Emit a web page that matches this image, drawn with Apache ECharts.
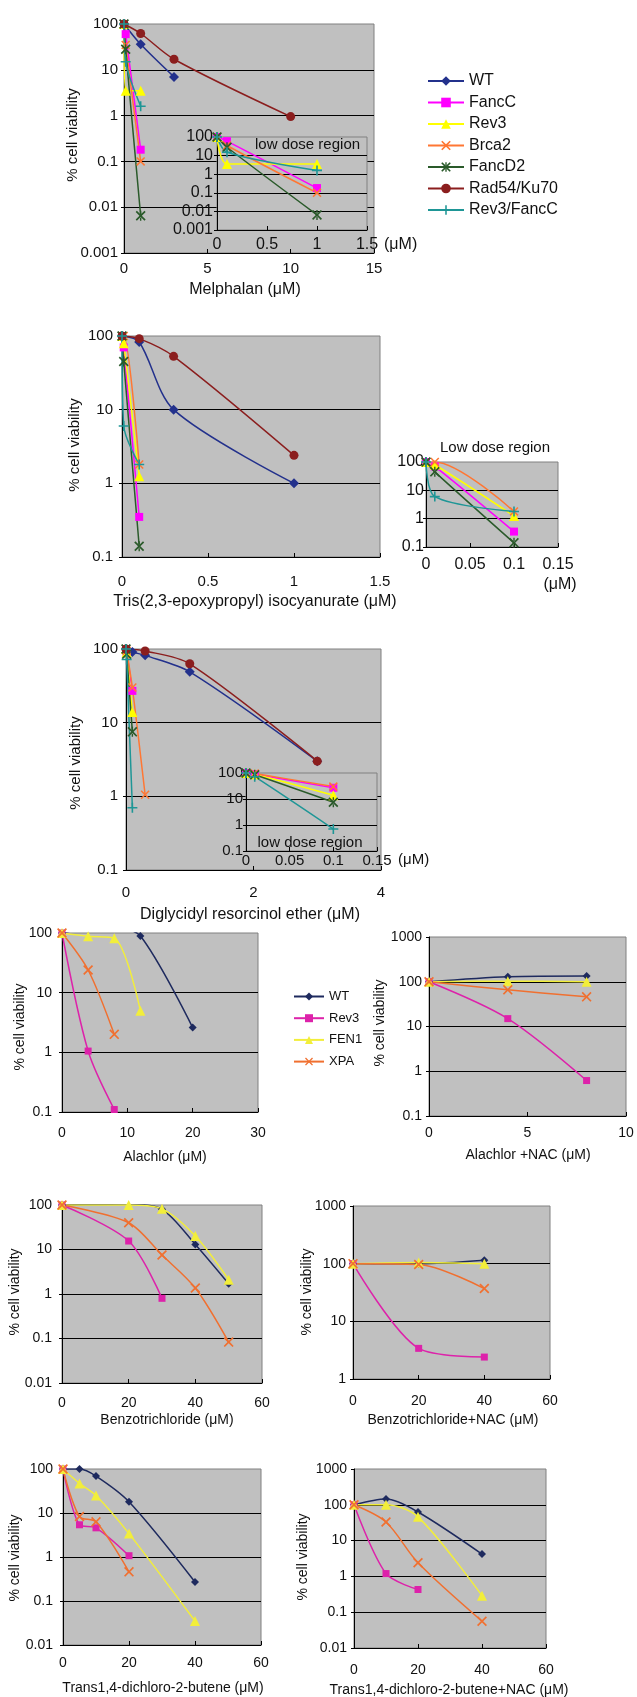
<!DOCTYPE html>
<html><head><meta charset="utf-8">
<script src="https://cdn.jsdelivr.net/npm/echarts@6/dist/echarts.min.js"></script>
<style>html,body{margin:0;padding:0;background:#fff}#c{width:637px;height:1697px}</style>
</head><body><div id="c"></div>
<script>
// ---------- DATA: [dose (µM), % cell viability] ----------
// Melphalan
const melWT        = [[0,100],[1,36],[3,7]];
const melFancC     = [[0,100],[0.1,60],[1,0.18]];
const melRev3      = [[0,100],[0.1,3.5],[1,3.5]];
const melBrca2     = [[0,100],[0.1,35],[1,0.1]];
const melFancD2    = [[0,100],[0.1,28],[1,0.0065]];
const melRad54     = [[0,100],[1,62],[3,17],[10,0.95]];
const melRev3FancC = [[0,100],[0.1,15],[1,1.6]];
// Tris(2,3-epoxypropyl) isocyanurate
const trisWT        = [[0,100],[0.1,83],[0.3,10],[1,1]];
const trisFancC     = [[0,100],[0.01,70],[0.1,0.35]];
const trisRev3      = [[0,100],[0.01,80],[0.1,1.25]];
const trisBrca2     = [[0,100],[0.01,100],[0.1,1.8]];
const trisFancD2    = [[0,100],[0.01,45],[0.1,0.14]];
const trisRad54     = [[0,100],[0.1,92],[0.3,53],[1,2.4]];
const trisRev3FancC = [[0,100],[0.01,6],[0.1,1.8]];
// Diglycidyl resorcinol ether
const digWT        = [[0,100],[0.1,91],[0.3,82],[1,49],[3,3]];
const digFancC     = [[0,100],[0.01,90],[0.1,27]];
const digRev3      = [[0,100],[0.01,90],[0.1,14]];
const digBrca2     = [[0,100],[0.01,95],[0.1,30],[0.3,1.05]];
const digFancD2    = [[0,100],[0.01,85],[0.1,7.5]];
const digRad54     = [[0,100],[0.3,94],[1,63],[3,3]];
const digRev3FancC = [[0,100],[0.01,72],[0.1,0.7]];
// Alachlor
const alaWT   = [[0,100],[4,118],[8,118],[12,89],[20,2.6]];
const alaWTNoMarker = [1,2];
const alaRev3 = [[0,100],[4,1.05],[8,0.11]];
const alaFEN1 = [[0,100],[4,88],[8,82],[12,5]];
const alaXPA  = [[0,100],[4,24],[8,2]];
// Alachlor + NAC
const alnWT   = [[0,100],[4,130],[8,135]];
const alnRev3 = [[0,100],[4,15],[8,0.62]];
const alnFEN1 = [[0,100],[4,103],[8,100]];
const alnXPA  = [[0,100],[4,66],[8,46]];
// Benzotrichloride
const bzWT   = [[0,100],[20,105],[30,80],[40,13],[50,1.7]];
const bzRev3 = [[0,100],[20,15.5],[30,0.8]];
const bzFEN1 = [[0,100],[20,100],[30,82],[40,20],[50,2.1]];
const bzXPA  = [[0,100],[20,40],[30,7.5],[40,1.36],[50,0.083]];
// Benzotrichloride + NAC
const bnWT   = [[0,100],[20,100],[40,115]];
const bnRev3 = [[0,100],[20,3.4],[40,2.4]];
const bnFEN1 = [[0,100],[20,105],[40,100]];
const bnXPA  = [[0,100],[20,97],[40,37]];
// Trans1,4-dichloro-2-butene
const trWT   = [[0,100],[5,100],[10,69],[20,18],[40,0.27]];
const trRev3 = [[0,100],[5,5.4],[10,4.6],[20,1.07]];
const trFEN1 = [[0,100],[5,47],[10,25],[20,3.4],[40,0.035]];
const trXPA  = [[0,100],[5,8.3],[10,6.3],[20,0.46]];
// Trans1,4-dichloro-2-butene + NAC
const tnWT   = [[0,100],[10,145],[20,63],[40,4.2]];
const tnRev3 = [[0,100],[10,1.2],[20,0.43]];
const tnFEN1 = [[0,100],[10,100],[20,46],[40,0.29]];
const tnXPA  = [[0,100],[10,33],[20,2.4],[40,0.056]];

const topNames = ['WT','FancC','Rev3','Brca2','FancD2','Rad54/Ku70','Rev3/FancC'];
const botNames = ['WT','Rev3','FEN1','XPA'];

// ---------- STYLE ----------
const FONT = '"Liberation Sans", Arial, sans-serif';
const BG = '#C0C0C0';
const XPATH = 'path://M0,1.2L1.2,0L5,3.8L8.8,0L10,1.2L6.2,5L10,8.8L8.8,10L5,6.2L1.2,10L0,8.8L3.8,5Z';
const ASTER = XPATH + 'M4.3,0L5.7,0L5.7,3.1L4.3,3.1ZM4.3,6.9L5.7,6.9L5.7,10L4.3,10Z';
const PLUS = 'path://M4.2,0L5.8,0L5.8,4.2L10,4.2L10,5.8L5.8,5.8L5.8,10L4.2,10L4.2,5.8L0,5.8L0,4.2L4.2,4.2Z';
const TOP = {
  'WT':         {color:'#23318C', symbol:'diamond', size:10},
  'FancC':      {color:'#FF00FF', symbol:'rect', size:8},
  'Rev3':       {color:'#FFFF00', symbol:'triangle', size:10},
  'Brca2':      {color:'#FF7733', symbol:XPATH, size:9},
  'FancD2':     {color:'#2A5A2A', symbol:ASTER, size:10},
  'Rad54/Ku70': {color:'#8B1E1E', symbol:'circle', size:9},
  'Rev3/FancC': {color:'#1E9696', symbol:PLUS, size:10}
};
const BOT = {
  'WT':   {color:'#1E2A5E', symbol:'diamond', size:8},
  'Rev3': {color:'#DD22AA', symbol:'rect', size:7},
  'FEN1': {color:'#F2EE3A', symbol:'triangle', size:10},
  'XPA':  {color:'#F07030', symbol:XPATH, size:10}
};

// grid layout: [left, top, width, height, z]
const grids = [
  [124, 24, 250, 229, 0],   // 0 melphalan
  [217, 137, 150, 93, 10],  // 1 melphalan inset
  [122, 336, 258, 221, 0],  // 2 tris
  [426, 462, 132, 85, 0],   // 3 tris inset
  [126, 649, 255, 221, 0],  // 4 diglycidyl
  [246, 773, 131, 78, 10],  // 5 diglycidyl inset
  [62, 933, 196, 179, 0],   // 6 alachlor
  [429, 937, 197, 179, 0],  // 7 alachlor + NAC
  [62, 1205, 200, 178, 0],  // 8 benzotrichloride
  [353, 1206, 197, 173, 0], // 9 benzotrichloride + NAC
  [63, 1469, 198, 176, 0],  // 10 trans
  [354, 1469, 192, 179, 0]  // 11 trans + NAC
];
// x axes: [min, max, interval, fontSize, margin]
const xs = [
  [0,15,5,15,8],[0,1.5,0.5,16,7],[0,1.5,0.5,15,17],[0,0.15,0.05,16,10],
  [0,4,2,15,15],[0,0.15,0.05,15,2],[0,30,10,14,14],[0,10,5,14,10],
  [0,60,20,14,13],[0,60,20,14,15],[0,60,20,14,11],[0,60,20,14,15]
];
// y axes: [min, max, fontSize, margin]
const ys = [
  [0.001,100,15,6],[0.001,100,16,4],[0.1,100,15,9],[0.1,100,16,2],
  [0.1,100,15,8],[0.1,100,15,3],[0.1,100,14,10],[0.1,1000,14,7],
  [0.01,100,14,10],[1,1000,14,7],[0.01,100,14,10],[0.01,1000,14,7]
];

const fmt = v => String(Number(Number(v).toPrecision(6)));

const gridOpt = grids.map(g => ({left:g[0], top:g[1], width:g[2], height:g[3], show:true,
  backgroundColor:BG, borderColor:'#808080', borderWidth:1, containLabel:false, z:g[4]}));
const xAxisOpt = xs.map((a,i) => ({type:'value', gridIndex:i, min:a[0], max:a[1], interval:a[2],
  z: grids[i][4] ? 11 : 0,
  axisLine:{show:true, onZero:false, lineStyle:{color:'#000', width:1}},
  axisTick:{show:true, inside:true, length:4, lineStyle:{color:'#000'}},
  splitLine:{show:false},
  axisLabel:{fontSize:a[3], fontFamily:FONT, color:'#111', margin:a[4], formatter:fmt, showMinLabel:true, showMaxLabel:true}}));
const yAxisOpt = ys.map((a,i) => ({type:'log', logBase:10, gridIndex:i, min:a[0], max:a[1],
  z: grids[i][4] ? 11 : 0,
  axisLine:{show:true, onZero:false, lineStyle:{color:'#000', width:1}},
  axisTick:{show:true, inside:false, length:3, lineStyle:{color:'#000'}},
  splitLine:{show:true, showMinLine:false, showMaxLine:false, lineStyle:{color:'#000', width:1}},
  minorTick:{show:false}, minorSplitLine:{show:false},
  axisLabel:{fontSize:a[2], fontFamily:FONT, color:'#111', margin:a[3], formatter:fmt, showMinLabel:true, showMaxLabel:true}}));

function mk(name, legendName, data, gi, st, hidden) {
  const maxX = xs[gi][1];
  const pts = data.filter(p => p[0] <= maxX + 1e-9);
  return {
    type:'line', name: legendName, xAxisIndex:gi, yAxisIndex:gi,
    data: pts.map((p,i) => (hidden && hidden.indexOf(i) >= 0) ? {value:p, symbol:'none'} : p),
    smooth:0.3, symbol:st.symbol, symbolSize:st.size, symbolKeepAspect:true, showSymbol:true,
    lineStyle:{color:st.color, width:1.5}, itemStyle:{color:st.color, borderWidth:0},
    z: grids[gi][4] ? 12 : 2, animation:false, clip:true, emphasis:{disabled:true}
  };
}

const series = [];
const melSets = [melWT, melFancC, melRev3, melBrca2, melFancD2, melRad54, melRev3FancC];
const trisSets = [trisWT, trisFancC, trisRev3, trisBrca2, trisFancD2, trisRad54, trisRev3FancC];
const digSets = [digWT, digFancC, digRev3, digBrca2, digFancD2, digRad54, digRev3FancC];
const insetNames = ['FancC','Rev3','Brca2','FancD2','Rev3/FancC'];
[[melSets,0,1],[trisSets,2,3],[digSets,4,5]].forEach(([sets, gMain, gIn]) => {
  topNames.forEach((n,k) => series.push(mk(n, n, sets[k], gMain, TOP[n])));
  topNames.forEach((n,k) => { if (insetNames.indexOf(n) >= 0) series.push(mk(n, n, sets[k], gIn, TOP[n])); });
});
const botPanels = [
  [[alaWT, alaRev3, alaFEN1, alaXPA], 6],
  [[alnWT, alnRev3, alnFEN1, alnXPA], 7],
  [[bzWT, bzRev3, bzFEN1, bzXPA], 8],
  [[bnWT, bnRev3, bnFEN1, bnXPA], 9],
  [[trWT, trRev3, trFEN1, trXPA], 10],
  [[tnWT, tnRev3, tnFEN1, tnXPA], 11]
];
botPanels.forEach(([sets, gi]) => {
  botNames.forEach((n,k) => series.push(mk(n, n + '#b', sets[k], gi, BOT[n], (gi === 6 && k === 0) ? alaWTNoMarker : null)));
});

function txt(s, x, y, size, opt) {
  opt = opt || {};
  return {type:'text', x:x, y:y, rotation: opt.rot || 0, z:20, silent:true,
    style:{text:s, font: size + 'px ' + FONT, fill:'#111', textAlign: opt.align || 'center', textVerticalAlign:'middle'}};
}
const R = Math.PI / 2;
const graphics = [
  txt('Melphalan (μM)', 245, 290, 16),
  txt('(μM)', 384, 245, 16, {align:'left'}),
  txt('low dose region', 255, 145, 15, {align:'left'}),
  txt('Tris(2,3-epoxypropyl) isocyanurate (μM)', 255, 602, 16),
  txt('Low dose region', 495, 448, 15),
  txt('(μM)', 560, 585, 16),
  txt('Diglycidyl resorcinol ether (μM)', 250, 915, 16),
  txt('low dose region', 310, 843, 15),
  txt('(μM)', 398, 860, 15, {align:'left'}),
  txt('Alachlor (μM)', 165, 1157, 14),
  txt('Alachlor +NAC (μM)', 528, 1155, 14),
  txt('Benzotrichloride (μM)', 167, 1420, 14),
  txt('Benzotrichloride+NAC (μM)', 453, 1420, 14),
  txt('Trans1,4-dichloro-2-butene (μM)', 163, 1688, 14),
  txt('Trans1,4-dichloro-2-butene+NAC (μM)', 449, 1690, 14),
  txt('% cell viability', 73, 135, 15, {rot:R}),
  txt('% cell viability', 75, 445, 15, {rot:R}),
  txt('% cell viability', 76, 763, 15, {rot:R}),
  txt('% cell viability', 20, 1027, 14, {rot:R}),
  txt('% cell viability', 380, 1023, 14, {rot:R}),
  txt('% cell viability', 15, 1292, 14, {rot:R}),
  txt('% cell viability', 307, 1292, 14, {rot:R}),
  txt('% cell viability', 15, 1558, 14, {rot:R}),
  txt('% cell viability', 303, 1557, 14, {rot:R})
];

const chart = echarts.init(document.getElementById('c'), null, {renderer:'canvas'});
chart.setOption({
  animation:false,
  backgroundColor:'#fff',
  grid: gridOpt, xAxis: xAxisOpt, yAxis: yAxisOpt,
  legend: [
    {left:422, top:68, orient:'vertical', itemWidth:36, itemHeight:12, itemGap:5.5, selectedMode:false,
     textStyle:{fontSize:16, lineHeight:16, fontFamily:FONT, color:'#111'}, data: topNames},
    {left:288, top:985, orient:'vertical', itemWidth:30, itemHeight:10, itemGap:8.7, selectedMode:false,
     textStyle:{fontSize:13, lineHeight:13, fontFamily:FONT, color:'#111'},
     data: botNames.map(n => n + '#b'), formatter: n => n.replace('#b','')}
  ],
  graphic: {elements: graphics},
  series: series
});
</script></body></html>
